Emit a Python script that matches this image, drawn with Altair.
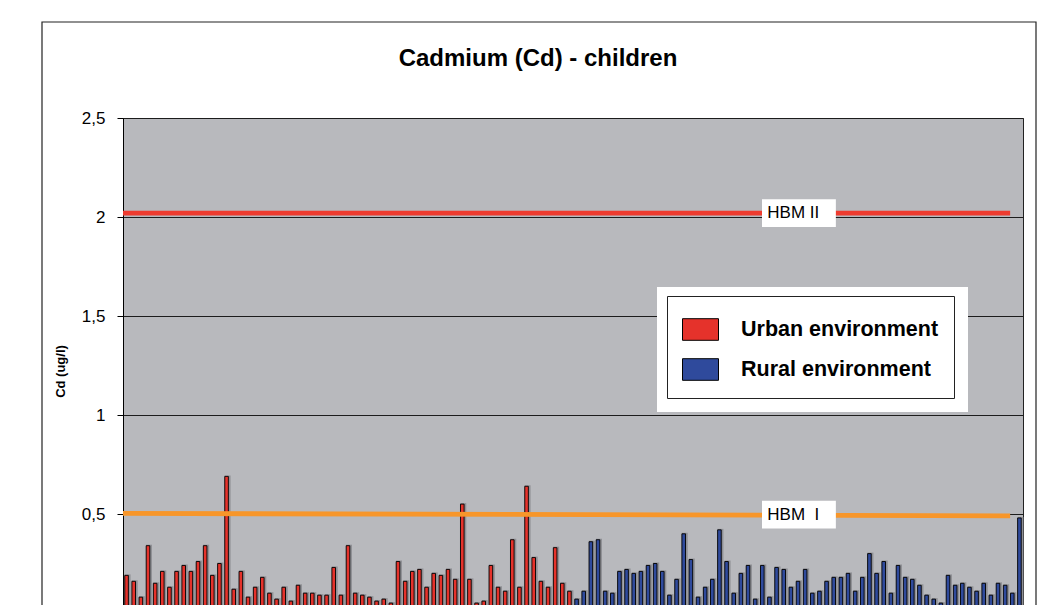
import altair as alt
import pandas as pd

# ---- data ----
urban = [0.19, 0.16, 0.08, 0.34, 0.15, 0.21, 0.13, 0.21, 0.24, 0.21,
         0.26, 0.34, 0.19, 0.25, 0.69, 0.12, 0.21, 0.08, 0.13, 0.18,
         0.10, 0.07, 0.13, 0.06, 0.14, 0.10, 0.10, 0.09, 0.09, 0.23,
         0.09, 0.34, 0.10, 0.09, 0.08, 0.06, 0.07, 0.05, 0.26, 0.16,
         0.21, 0.22, 0.13, 0.20, 0.19, 0.22, 0.17, 0.55, 0.17, 0.05,
         0.06, 0.24, 0.13, 0.11, 0.37, 0.13, 0.64, 0.28, 0.16, 0.13,
         0.33, 0.15, 0.11]
rural = [0.07, 0.11, 0.36, 0.37, 0.11, 0.10, 0.21, 0.22, 0.20, 0.21,
         0.24, 0.25, 0.21, 0.09, 0.17, 0.40, 0.27, 0.08, 0.13, 0.17,
         0.42, 0.26, 0.10, 0.20, 0.24, 0.07, 0.24, 0.08, 0.23, 0.22,
         0.13, 0.16, 0.22, 0.10, 0.11, 0.16, 0.18, 0.18, 0.20, 0.11,
         0.18, 0.30, 0.20, 0.26, 0.10, 0.24, 0.18, 0.17, 0.14, 0.09,
         0.07, 0.05, 0.19, 0.14, 0.15, 0.13, 0.11, 0.15, 0.09, 0.15,
         0.14, 0.10, 0.48]
env_names = ["Urban environment", "Rural environment"]
env_colors = ["#e5322b", "#2f4a9c"]

hbm_labels = ["HBM II", "HBM\u00a0\u00a0I"]
hbm_start = [2.02, 0.503]
hbm_end = [2.02, 0.491]
hbm_colors = ["#ee3b2f", "#f7962a"]
line_x = [0.5, 124.7]

y_ticks = [0.5, 1, 1.5, 2, 2.5]
title_text = "Cadmium (Cd) - children"
y_title = "Cd (ug/l)"

FONT = "Liberation Sans"

# ---- tables ----
vals = urban + rural
bars_df = pd.DataFrame({
    "sample": list(range(1, len(vals) + 1)),
    "cd": vals,
    "env": [env_names[0]] * len(urban) + [env_names[1]] * len(rural),
})

lines_df = pd.DataFrame({
    "name": [hbm_labels[0], hbm_labels[0], hbm_labels[1], hbm_labels[1]],
    "x": [line_x[0], line_x[1], line_x[0], line_x[1]],
    "y": [hbm_start[0], hbm_end[0], hbm_start[1], hbm_end[1]],
})

lab_df = pd.DataFrame({
    "label": hbm_labels,
    "level": [(a + b) / 2 for a, b in zip(hbm_start, hbm_end)],
})
lab_df["lo"] = lab_df["level"] - 0.07
lab_df["hi"] = lab_df["level"] + 0.07
lab_df["x0"] = 89.96
lab_df["x1"] = 100.3
lab_df["xt"] = 90.7

one = pd.DataFrame({"a": [0]})
title_df = pd.DataFrame({"t": [title_text]})

xscale = alt.Scale(domain=[0.5, 126.5], nice=False, zero=False, padding=0)
yscale = alt.Scale(domain=[0, 2.5], nice=False)
yaxis = alt.Axis(
    values=y_ticks,
    labelExpr="replace(toString(datum.value), '.', ',')",
    labelFont=FONT, labelFontSize=17, labelColor="black", labelPadding=12,
    tickSize=6, tickColor="black", domainColor="black",
    grid=True, gridColor="#1c1c1c", gridWidth=1,
    title=y_title, titleFont=FONT, titleFontSize=13, titleFontWeight="bold",
    titleColor="black", titleX=-56, titleY=253,
)


def yenc(field):
    return alt.Y(f"{field}:Q", scale=yscale, axis=yaxis, title=y_title)


frame = alt.Chart(one).mark_rect(filled=False, stroke="#222", strokeWidth=1.2).encode(
    x=alt.value(-81), x2=alt.value(913), y=alt.value(-96), y2=alt.value(600)
)

title = alt.Chart(title_df).mark_text(
    font=FONT, fontSize=24, fontWeight="bold", color="black",
    align="center", baseline="alphabetic",
).encode(x=alt.value(415), y=alt.value(-52), text="t:N")

shadow = alt.Chart(bars_df).mark_bar(size=6, color="#909196", xOffset=1, yOffset=-1).encode(
    x=alt.X("sample:Q", scale=xscale, axis=None),
    y=yenc("cd"),
)

bars = alt.Chart(bars_df).mark_bar(size=3.6, stroke="black", strokeWidth=0.9).encode(
    x=alt.X("sample:Q", scale=xscale, axis=None),
    y=yenc("cd"),
    color=alt.Color(
        "env:N",
        scale=alt.Scale(domain=env_names, range=env_colors),
        legend=alt.Legend(
            title=None, orient="none", legendX=544, legendY=178,
            direction="vertical", fillColor="white", strokeColor="#222",
            padding=15, symbolType="M-1,-0.6H1V0.6H-1Z", symbolSize=1296,
            symbolStrokeColor="black", symbolStrokeWidth=1, symbolOpacity=1,
            labelFont=FONT, labelFontSize=21.5, labelFontWeight="bold",
            labelColor="black", labelOffset=22, rowPadding=8, labelLimit=400,
        ),
    ),
)

line_layers = []
for name, col in zip(hbm_labels, hbm_colors):
    line_layers.append(
        alt.Chart(lines_df[lines_df["name"] == name]).mark_line(
            color=col, strokeWidth=4.8
        ).encode(
            x=alt.X("x:Q", scale=xscale, axis=None),
            y=yenc("y"),
        )
    )

lab_box = alt.Chart(lab_df).mark_rect(fill="white").encode(
    x=alt.X("x0:Q", scale=xscale, axis=None),
    x2="x1:Q",
    y=yenc("lo"),
    y2="hi:Q",
)

lab_text = alt.Chart(lab_df).mark_text(
    align="left", baseline="middle", font=FONT, fontSize=17, color="black"
).encode(
    x=alt.X("xt:Q", scale=xscale, axis=None),
    y=yenc("level"),
    text="label:N",
)

legend_bg = alt.Chart(one).mark_rect(fill="white").encode(
    x=alt.value(534), x2=alt.value(845), y=alt.value(169), y2=alt.value(294)
)

chart = alt.layer(
    frame, title, shadow, bars, *line_layers, lab_box, lab_text, legend_bg
).properties(
    width=900,
    height=495,
    autosize=alt.AutoSizeParams(type="none"),
    padding={"left": 115, "top": 110, "right": 20, "bottom": 10},
    background="white",
).configure_view(
    fill="#b8b9bd", stroke="#222", strokeWidth=1
)

chart.save("out.html", embed_options={"renderer": "svg", "actions": False})
